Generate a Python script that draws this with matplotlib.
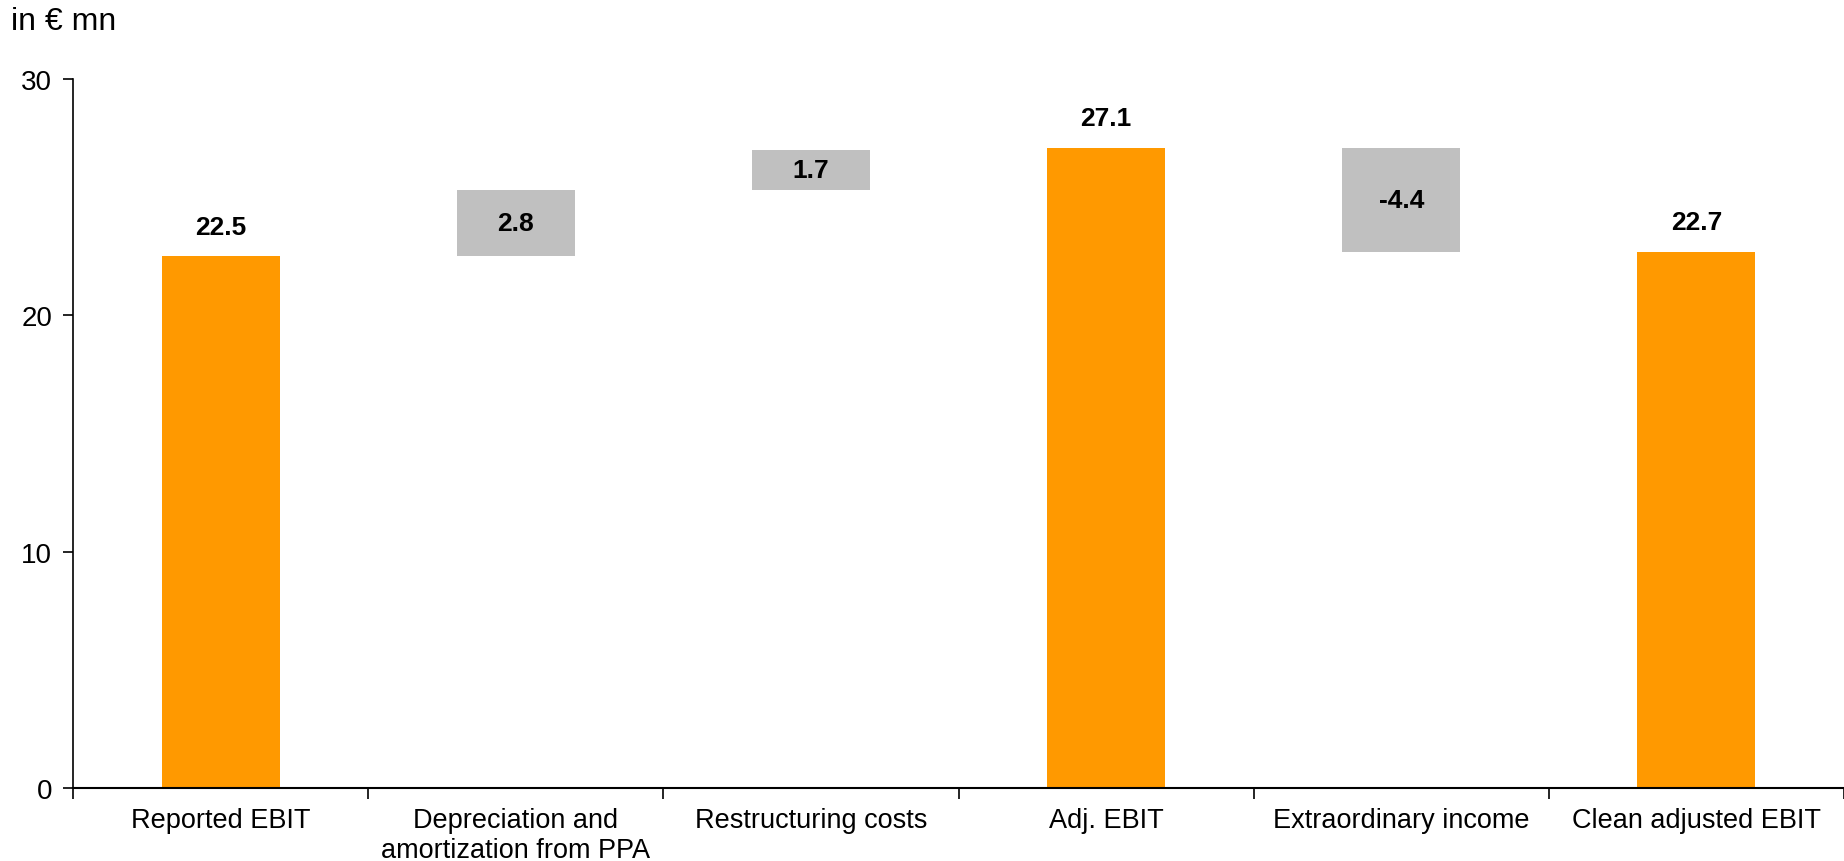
import numpy as np
import matplotlib
matplotlib.use("Agg")
import matplotlib.pyplot as plt

plt.rcParams['font.family'] = ['Liberation Sans', 'DejaVu Sans']

# Waterfall data (in EUR mn)
categories = ["Reported EBIT", "Depreciation and\namortization from PPA", "Restructuring costs",
              "Adj. EBIT", "Extraordinary income", "Clean adjusted EBIT"]
values = [22.5, 2.8, 1.7, 27.1, -4.4, 22.7]
is_total = [True, False, False, True, False, True]

ORANGE = "#FF9900"
GREY = "#C0C0C0"

# bottoms / heights from running total
bottoms = []
heights = []
running = 0.0
for v, tot in zip(values, is_total):
    if tot:
        bottoms.append(0.0)
        heights.append(v)
        running = v
    else:
        if v >= 0:
            bottoms.append(running)
        else:
            bottoms.append(running + v)
        heights.append(abs(v))
        running += v

fig = plt.figure(figsize=(18.44, 8.62), dpi=100)
ax = fig.add_axes([0.0396, 0.0847, 0.9604, 0.8225])

x = np.arange(len(categories))
colors = [ORANGE if t else GREY for t in is_total]
ax.bar(x, heights, 0.4, bottom=bottoms, color=colors, edgecolor="none")

for xi, b, h, v, tot in zip(x, bottoms, heights, values, is_total):
    if tot:
        ax.text(xi, b + h + 0.75, f"{v:.1f}", ha="center", va="bottom",
                fontsize=19, fontweight="bold")
    else:
        ax.text(xi, b + h / 2, f"{v:.1f}", ha="center", va="center",
                fontsize=19, fontweight="bold")

ax.set_xlim(-0.5, len(categories) - 0.5)
ax.set_ylim(0, 30)
ax.set_yticks([0, 10, 20, 30])

ax.set_xticks(x)
ax.set_xticklabels(categories, fontsize=19.5)
ax.set_xticks(np.arange(-0.5, len(categories), 1.0), minor=True)
ax.tick_params(axis="x", which="major", length=0, pad=14)
ax.tick_params(axis="x", which="minor", length=8, width=1.2, direction="out")
ax.tick_params(axis="y", length=7, width=1.2, pad=8, labelsize=20)

for s in ["top", "right"]:
    ax.spines[s].set_visible(False)
ax.spines["left"].set_linewidth(1.2)
ax.spines["bottom"].set_linewidth(1.5)

fig.text(0.006, 0.974, "in € mn", fontsize=23, ha="left", va="center")

fig.savefig("out.png", dpi=100)
